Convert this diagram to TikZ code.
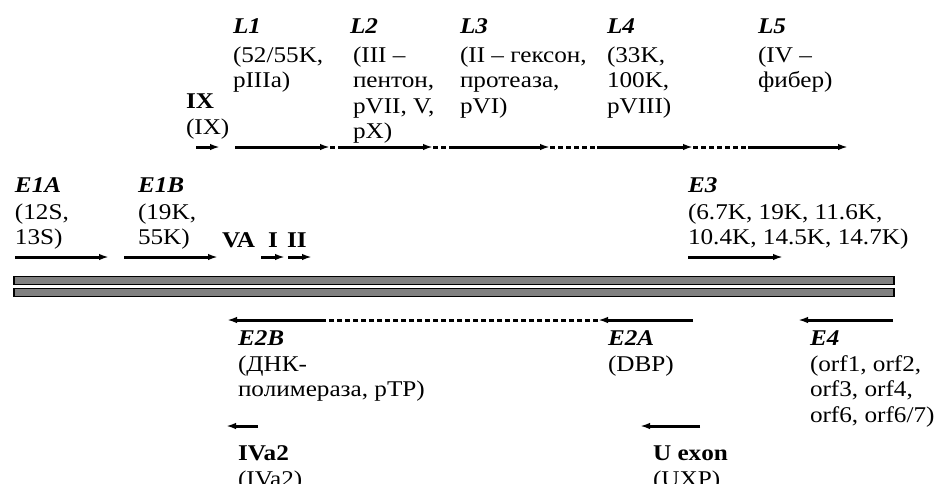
\documentclass[tikz,border=0pt]{standalone}
\usepackage{fontspec}
\setmainfont[FakeStretch=1.12]{Liberation Serif}
\usetikzlibrary{arrows.meta}
\newcommand\fsz{\fontsize{22.5}{25.5}\selectfont}
\newcommand\blk[1]{\begin{tabular}[t]{@{}l@{}}#1\end{tabular}}
\begin{document}
\begin{tikzpicture}[x=1pt,y=-1pt,
  every node/.style={inner sep=0pt,outer sep=0pt,anchor=base west,font=\fsz},
  ttl/.style={font=\fsz\bfseries\itshape},
  bld/.style={font=\fsz\bfseries},
  gene/.style={line width=3pt,-{Latex[length=10pt,width=6.5pt]}},
  gapline/.style={line width=3pt,dash pattern=on 5pt off 3pt},
  band/.style={fill=black!50,draw=black,line width=1.6pt}]
\useasboundingbox (0,0) rectangle (935,483);
% genome bands
\draw[band] (14,276.5) rectangle (894,284.5);
\draw[band] (14,288.5) rectangle (894,296.5);
% ---------- top row (late genes) ----------
\foreach \n/\x in {ixa/196,ixb/220,l1a/235,l1b/330,l2a/342,l2b/433,l3a/453,l3b/550,l4a/597,l4b/693,l5a/748,l5b/848}
  \coordinate (\n) at (\x,147);
\draw[gene] (ixa) -- (ixb);
\draw[gene] (l1a) -- (l1b);
\draw[gapline] (l1b) -- (l2a);
\draw[gene] (l2a) -- (l2b);
\draw[gapline] (l2b) -- (l3a);
\draw[gene] (l3a) -- (l3b);
\draw[gapline] (l3b) -- (l4a);
\draw[gene] (l4a) -- (l4b);
\draw[gapline] (l4b) -- (l5a);
\draw[gene] (l5a) -- (l5b);
\node[ttl] (L1) at (233,33) {L1};
\node (L1b) at (233,62) {\blk{(52/55K,\\pIIIa)}};
\node[ttl] (L2) at (350,33) {L2};
\node (L2b) at (353,62) {\blk{(III –\\пентон,\\pVII, V,\\pX)}};
\node[ttl] (L3) at (460,33) {L3};
\node (L3b) at (460,62) {\blk{(II – гексон,\\протеаза,\\pVI)}};
\node[ttl] (L4) at (607,33) {L4};
\node (L4b) at (607,62) {\blk{(33K,\\100K,\\pVIII)}};
\node[ttl] (L5) at (758,33) {L5};
\node (L5b) at (758,62) {\blk{(IV –\\фибер)}};
\node[bld] (IX) at (186,108) {IX};
\node (IXb) at (186,134) {(IX)};
% ---------- second row (early genes, rightward) ----------
\foreach \n/\x in {e1aa/15,e1ab/109,e1ba/124,e1bb/218,ia/261,ib/285,iia/288,iib/312,e3a/688,e3b/783}
  \coordinate (\n) at (\x,257);
\draw[gene] (e1aa) -- (e1ab);
\draw[gene] (e1ba) -- (e1bb);
\draw[gene] (ia) -- (ib);
\draw[gene] (iia) -- (iib);
\draw[gene] (e3a) -- (e3b);
\node[ttl] (E1A) at (15,192) {E1A};
\node (E1Ab) at (15,219) {\blk{(12S,\\13S)}};
\node[ttl] (E1B) at (138,192) {E1B};
\node (E1Bb) at (138,219) {\blk{(19K,\\55K)}};
\node[bld] (VA) at (222,247) {VA};
\node[bld] (I) at (268,247) {I};
\node[bld] (II) at (287,247) {II};
\node[ttl] (E3) at (688,192) {E3};
\node (E3b) at (688,219) {\blk{(6.7K, 19K, 11.6K,\\10.4K, 14.5K, 14.7K)}};
% ---------- bottom rows (leftward) ----------
\foreach \n/\x in {e2aa/693,e2ab/598,e2ba/322,e2bb/227,e4a/893,e4b/798}
  \coordinate (\n) at (\x,320);
\draw[gene] (e2aa) -- (e2ab);
\draw[gapline] (e2ab) -- (e2ba);
\draw[gene] (e2ba) -- (e2bb);
\draw[gene] (e4a) -- (e4b);
\coordinate (iva) at (258,426);
\coordinate (ivb) at (226,426);
\coordinate (ua) at (700,426);
\coordinate (ub) at (640,426);
\draw[gene] (iva) -- (ivb);
\draw[gene] (ua) -- (ub);
\node[ttl] (E2B) at (238,345) {E2B};
\node (E2Bb) at (238,371) {\blk{(ДНК-\\полимераза, pTP)}};
\node[ttl] (E2A) at (608,345) {E2A};
\node (E2Ab) at (608,371) {(DBP)};
\node[ttl] (E4) at (810,345) {E4};
\node (E4b) at (810,371) {\blk{(orf1, orf2,\\orf3, orf4,\\orf6, orf6/7)}};
\node[bld] (IVa2) at (238,460) {IVa2};
\node (IVa2b) at (238,486) {(IVa2)};
\node[bld] (Uex) at (653,460) {U exon};
\node (Uexb) at (653,486) {(UXP)};
\end{tikzpicture}
\end{document}
